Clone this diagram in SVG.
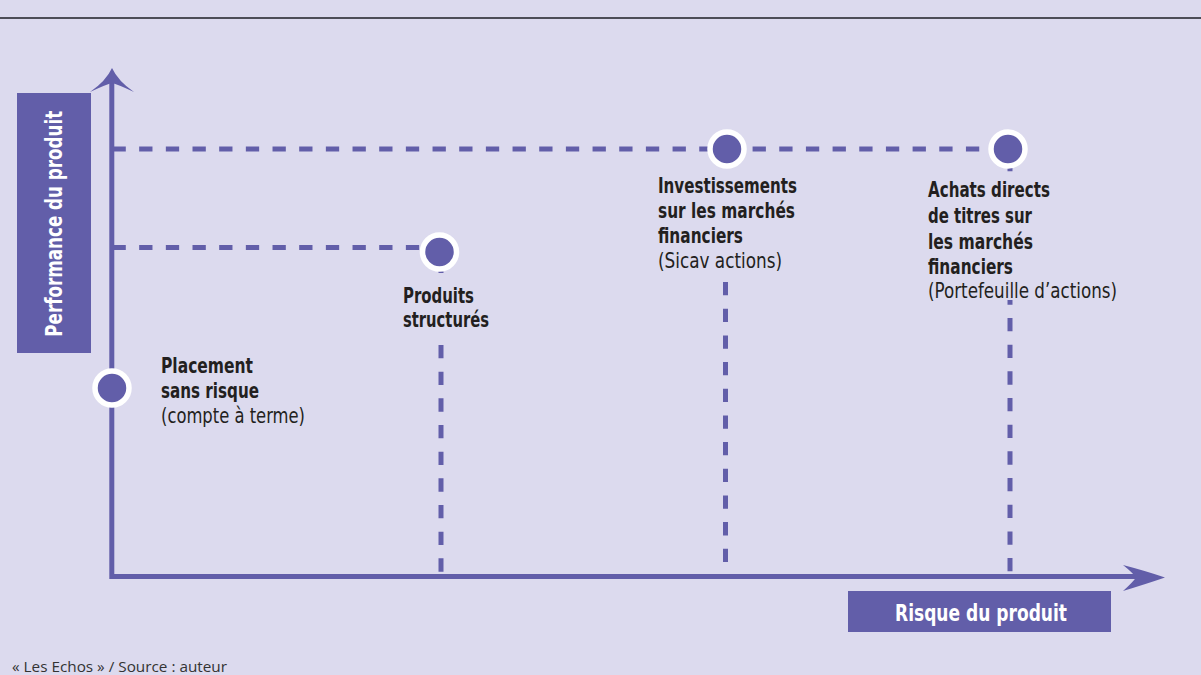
<svg xmlns="http://www.w3.org/2000/svg" width="1201" height="675" viewBox="0 0 1201 675">
<style>
.bg{fill:#DCDAEE}
.pur{fill:#625EA9}
.dash{fill:none;stroke:#625EA9;stroke-width:5;stroke-dasharray:13.3 13.37}
.axis{fill:none;stroke:#625EA9;stroke-width:5}
.dot{fill:#625EA9;stroke:#ffffff;stroke-width:5.5}
.b{font-family:"Liberation Sans Narrow","DejaVu Sans Condensed","Roboto",sans-serif;font-stretch:condensed;font-weight:bold;font-size:21px;fill:#231f20}
.r{font-family:"Liberation Sans Narrow","DejaVu Sans Condensed","Roboto",sans-serif;font-stretch:condensed;font-size:21px;fill:#231f20}
.w{font-family:"Liberation Sans Narrow","DejaVu Sans Condensed","Roboto",sans-serif;font-stretch:condensed;font-weight:bold;font-size:23px;fill:#ffffff}
.foot{font-family:"Open Sans","DejaVu Sans",sans-serif;font-size:14px;fill:#333333}
</style>
<rect class="bg" x="0" y="0" width="1201" height="675"/>
<line x1="0" y1="18" x2="1201" y2="18" stroke="#4d4d57" stroke-width="2"/>

<g id="axes">
<path class="axis" d="M111.8,82 L111.8,576.5 L1140,576.5"/>
<path class="pur" d="M112,68 Q118,81 134,92 Q117,84 112,83 Q107,84 90,92 Q106,81 112,68 Z"/>
<path class="pur" d="M1165,577.5 Q1146,571 1123,565 Q1133,573 1136,577.5 Q1133,582 1123,591 Q1146,584 1165,577.5 Z"/>
</g>

<g id="connectors">
<path class="dash" d="M112.5,149 L1008,149"/>
<path class="dash" d="M112.5,247.5 L439,247.5"/>
<path class="dash" d="M441,265 L441,572"/>
<path class="dash" d="M725.5,148.7 L725.5,562"/>
<path class="dash" d="M1010,158 L1010,572"/>
</g>

<g id="label-performance">
<rect class="pur" x="17" y="93" width="74" height="260"/>
<text class="w" transform="translate(61.5,223.7) rotate(-90)" text-anchor="middle" textLength="226" lengthAdjust="spacingAndGlyphs">Performance du produit</text>
</g>

<g id="label-risque">
<rect class="pur" x="848" y="591" width="263" height="41"/>
<text class="w" x="981" y="621" text-anchor="middle" textLength="172" lengthAdjust="spacingAndGlyphs">Risque du produit</text>
</g>

<g id="node-placement">
<circle class="dot" cx="112" cy="388" r="17"/>
<text class="b" x="161" y="373" textLength="92" lengthAdjust="spacingAndGlyphs">Placement</text>
<text class="b" x="161" y="398" textLength="98" lengthAdjust="spacingAndGlyphs">sans risque</text>
<text class="r" x="161" y="423" textLength="144" lengthAdjust="spacingAndGlyphs">(compte à terme)</text>
</g>

<g id="node-produits">
<rect class="bg" x="398" y="273" width="96" height="67"/>
<circle class="dot" cx="439.5" cy="252" r="17"/>
<text class="b" x="403" y="303" textLength="71" lengthAdjust="spacingAndGlyphs">Produits</text>
<text class="b" x="403" y="327" textLength="86" lengthAdjust="spacingAndGlyphs">structurés</text>
</g>

<g id="node-investissements">
<rect class="bg" x="652" y="169" width="150" height="111"/>
<circle class="dot" cx="727" cy="149" r="17"/>
<text class="b" x="658" y="193" textLength="139" lengthAdjust="spacingAndGlyphs">Investissements</text>
<text class="b" x="658" y="218" textLength="137" lengthAdjust="spacingAndGlyphs">sur les marchés</text>
<text class="b" x="658" y="243" textLength="85" lengthAdjust="spacingAndGlyphs">financiers</text>
<text class="r" x="658" y="268" textLength="124" lengthAdjust="spacingAndGlyphs">(Sicav actions)</text>
</g>

<g id="node-achats">
<rect class="bg" x="922" y="172" width="200" height="128"/>
<circle class="dot" cx="1008" cy="149" r="17"/>
<text class="b" x="928" y="197" textLength="122" lengthAdjust="spacingAndGlyphs">Achats directs</text>
<text class="b" x="928" y="223" textLength="104" lengthAdjust="spacingAndGlyphs">de titres sur</text>
<text class="b" x="928" y="249" textLength="105" lengthAdjust="spacingAndGlyphs">les marchés</text>
<text class="b" x="928" y="274" textLength="85" lengthAdjust="spacingAndGlyphs">financiers</text>
<text class="r" x="928" y="298" textLength="189" lengthAdjust="spacingAndGlyphs">(Portefeuille d’actions)</text>
</g>

<text class="foot" x="12" y="672" textLength="215" lengthAdjust="spacingAndGlyphs">« Les Echos » / Source : auteur</text>
</svg>
